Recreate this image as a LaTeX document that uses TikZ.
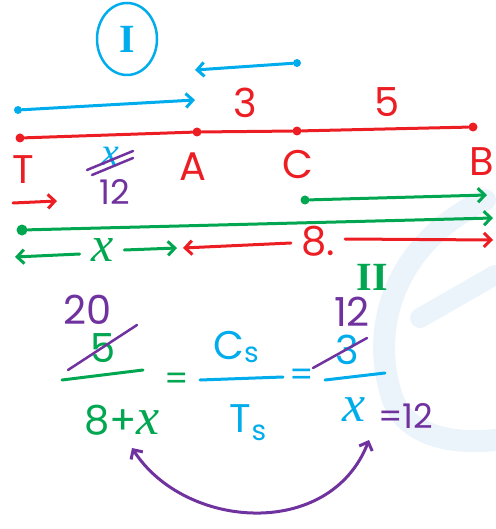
\documentclass[tikz,border=0pt]{standalone}
\usepackage{fontspec}
\setmainfont{Poppins}
\newfontfamily\romanfont{Liberation Serif}
\usepackage{tikz}
\usepackage{xcolor}
\usetikzlibrary{arrows.meta}

\definecolor{hred}{RGB}{236,30,36}
\definecolor{hblue}{RGB}{0,172,236}
\definecolor{hgreen}{RGB}{0,166,80}
\definecolor{hpurple}{RGB}{112,50,158}
\definecolor{wmark}{RGB}{236,244,251}

\newcommand{\hwbig}{\fontsize{40}{40}\selectfont}
\newcommand{\hwmid}{\fontsize{34}{34}\selectfont}
\newcommand{\hwsmall}{\fontsize{28}{28}\selectfont}
\newcommand{\hx}{{\romanfont\itshape x}}

\tikzset{
  pen/.style={line width=3pt, line cap=round, line join=round},
  penarrow/.style={pen, -{Straight Barb[length=7pt,width=14pt]}},
  dot/.style={circle, fill, inner sep=0pt, minimum size=9pt},
  hand/.style={inner sep=0pt}
}

\begin{document}
\begin{tikzpicture}[x=1pt,y=-1pt]
\useasboundingbox (0,0) rectangle (495,529);

% watermark
\draw[wmark, line width=22pt, line cap=round]
  (485,200) .. controls (400,240) and (370,320) .. (390,390)
  .. controls (400,435) and (450,445) .. (495,440);
\draw[wmark, line width=20pt, line cap=round] (420,318) -- (495,275);

% part I
\node[hand, text=hblue] (one) at (127,39) {\romanfont\bfseries\hwbig I};
\draw[hblue, line width=2.5pt] (one.center) ellipse [x radius=30, y radius=36];
\node[dot, hblue, minimum size=8pt] (c1) at (297,63) {};
\coordinate (a1) at (195,70);
\draw[penarrow, hblue] (c1) -- (a1);
\node[dot, hblue, minimum size=8pt] (t1) at (18,110) {};
\coordinate (a2) at (195,100);
\draw[penarrow, hblue] (t1) -- (a2);

% line T-A-C-B
\node[dot, hred] (T) at (20,138) {};
\node[dot, hred] (A) at (197,132) {};
\node[dot, hred] (C) at (297,131) {};
\node[dot, hred] (B) at (473,127) {};
\draw[pen, hred] (T) -- (A) -- (C) -- (B);
\node[hand, text=hred] (three) at (245,103) {\hwbig 3};
\node[hand, text=hred] (five) at (387,102) {\hwbig 5};
\node[hand, text=hred] (lT) at (23,170) {\hwbig T};
\node[hand, text=hred] (lA) at (193,167) {\hwbig A};
\node[hand, text=hred] (lC) at (298,165) {\hwbig C};
\node[hand, text=hred] (lB) at (482,162) {\hwbig B};

% x crossed out, 12 below
\node[hand, text=hblue] (xold) at (110,156) {\hwbig\hx};
\draw[hpurple, line width=2.5pt, line cap=round] (87,170) -- (133,151);
\draw[hpurple, line width=2.5pt, line cap=round] (92,175) -- (133,158);
\node[hand, text=hpurple] (xnew) at (115,192) {\hwmid 12};

% arrows under the line
\coordinate (r1) at (13,203);
\coordinate (r2) at (57,201);
\draw[penarrow, hred] (r1) -- (r2);
\node[dot, hgreen] (g1) at (305,200) {};
\coordinate (g1e) at (487,195);
\draw[penarrow, hgreen] (g1) -- (g1e);
\node[dot, hgreen, minimum size=11pt] (g2) at (22,230) {};
\coordinate (g2e) at (493,218);
\draw[penarrow, hgreen] (g2) -- (g2e);

% distance x and 8
\node[hand, text=hgreen] (xdist) at (103,250) {\fontsize{50}{50}\selectfont\hx};
\coordinate (xl) at (15,257);
\coordinate (xr) at (177,248);
\draw[penarrow, hgreen] (xdist.west) ++(-12,4) -- (xl);
\draw[penarrow, hgreen] (xdist.east) ++(10,0) -- (xr);
\node[hand, text=hred] (eight) at (318,241) {\hwbig 8.};
\coordinate (el) at (183,248);
\coordinate (er) at (493,240);
\draw[penarrow, hred] (eight.west) ++(-10,2) -- (el);
\draw[penarrow, hred] (eight.east) ++(10,-2) -- (er);
\node[hand, text=hgreen] (two) at (372,277) {\romanfont\bfseries\hwbig II};

% equation
\node[hand, text=hpurple] (twenty) at (88,310) {\hwbig 20};
\node[hand, text=hgreen] (fiveb) at (103,348) {\hwbig 5};
\draw[hpurple, line width=2.5pt, line cap=round] (68,370) -- (137,325);
\coordinate (f1a) at (62,380);
\coordinate (f1b) at (143,370);
\draw[pen, hgreen] (f1a) -- (f1b);
\node[hand, text=hgreen] (den1) at (122,420) {\hwbig 8+{\fontsize{52}{52}\selectfont\hx}};
\node[hand, text=hgreen] (eq1) at (177,382) {\hwmid =};

\node[hand, text=hblue] (cs) at (236,347) {\hwbig C\raisebox{-3pt}{\hwsmall s}};
\coordinate (f2a) at (200,380);
\coordinate (f2b) at (283,377);
\draw[pen, hblue] (f2a) -- (f2b);
\node[hand, text=hblue] (ts) at (248,423) {\hwbig T\raisebox{-8pt}{\hwsmall s}};
\node[hand, text=hblue] (eq2) at (302,378) {\hwmid =};

\node[hand, text=hpurple] (twelve) at (352,312) {\hwbig 12};
\node[hand, text=hblue] (threeb) at (347,350) {\hwbig 3};
\draw[hpurple, line width=2.5pt, line cap=round] (313,368) -- (367,338);
\coordinate (f3a) at (325,380);
\coordinate (f3b) at (385,373);
\draw[pen, hblue] (f3a) -- (f3b);
\node[hand, text=hblue] (xden) at (354,410) {\fontsize{52}{52}\selectfont\hx};
\node[hand, text=hpurple, anchor=west] (res) at (378,416) {\hwmid =12};

% link between the denominators
\coordinate (l1) at (132,448);
\coordinate (l2) at (369,440);
\draw[pen, hpurple, {Straight Barb[length=7pt,width=14pt]}-{Straight Barb[length=7pt,width=14pt]}]
  (l1) .. controls (185,530) and (330,540) .. (l2);
\end{tikzpicture}
\end{document}
